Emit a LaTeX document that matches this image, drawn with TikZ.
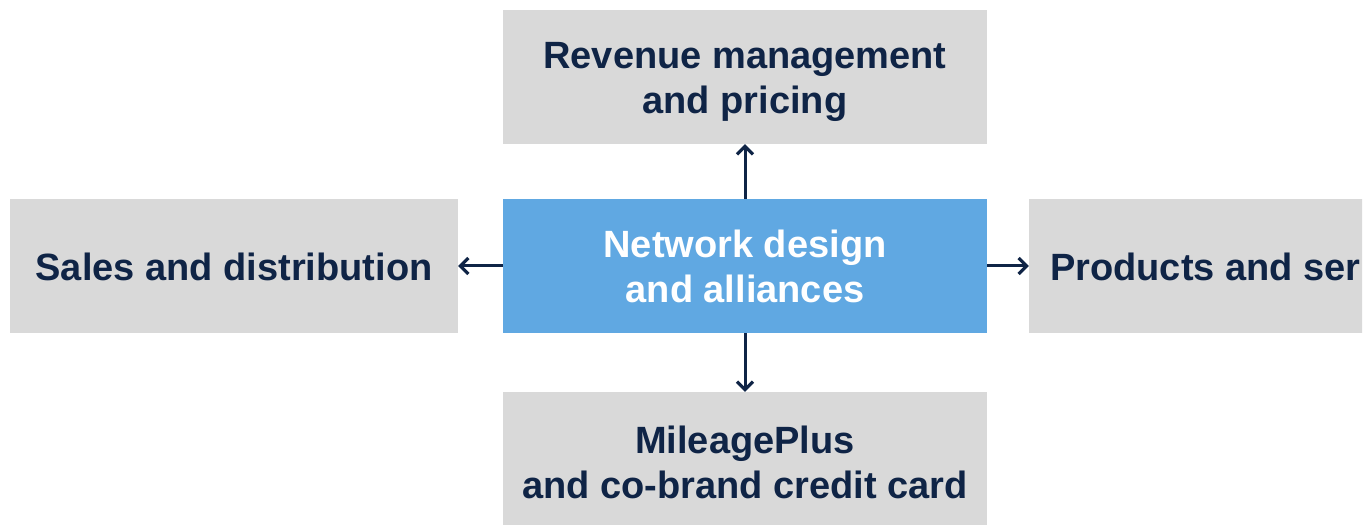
\documentclass[tikz,border=0pt]{standalone}
\usepackage{fontspec}
\setmainfont{Liberation Sans}
\usetikzlibrary{arrows.meta}
\definecolor{boxgray}{HTML}{D9D9D9}
\definecolor{coreblue}{HTML}{60A8E2}
\definecolor{navy}{HTML}{0F2446}
\begin{document}
\begin{tikzpicture}[x=1pt,y=1pt,
  boxtext/.style={text=navy, font=\bfseries\fontsize{38}{45}\selectfont, align=center, inner sep=0pt},
  area/.style={boxtext, fill=boxgray, minimum height=134pt},
  core/.style={area, fill=coreblue, text=white},
  link/.style={draw=navy, line width=3pt,
    -{Straight Barb[length=8pt,width=16pt,line width=3.2pt]}}]
\useasboundingbox (0,0) rectangle (1369,525);
\begin{scope}
  \clip (0,0) rectangle (1362,525);
  % central function and the four areas around it
  \node[core, minimum width=484pt] (net) at (745,259) {Network design\\and alliances};
  \node[area, minimum width=484pt] (rev) at (745,448) {};
  \node[boxtext] (revlabel) at (745,443) {Revenue management\\and pricing};
  \node[area, minimum width=448pt] (sales) at (234,259) {};
  \node[boxtext] (saleslabel) at (234,258) {Sales and distribution};
  \node[area, minimum width=448pt] (prod) at (1253,259) {};
  \node[boxtext, anchor=west] (prodlabel) at (1050,258) {Products and ser};
  \node[area, minimum width=484pt] (miles) at (745,66) {};
  \node[boxtext] (mileslabel) at (745,63) {MileagePlus\\and co-brand credit card};
  % links from the centre outwards
  \draw[link] (net.north) -- (rev.south);
  \draw[link] (net.south) -- (miles.north);
  \draw[link] (net.west) -- (sales.east);
  \draw[link] (net.east) -- (prod.west);
\end{scope}
\end{tikzpicture}
\end{document}
